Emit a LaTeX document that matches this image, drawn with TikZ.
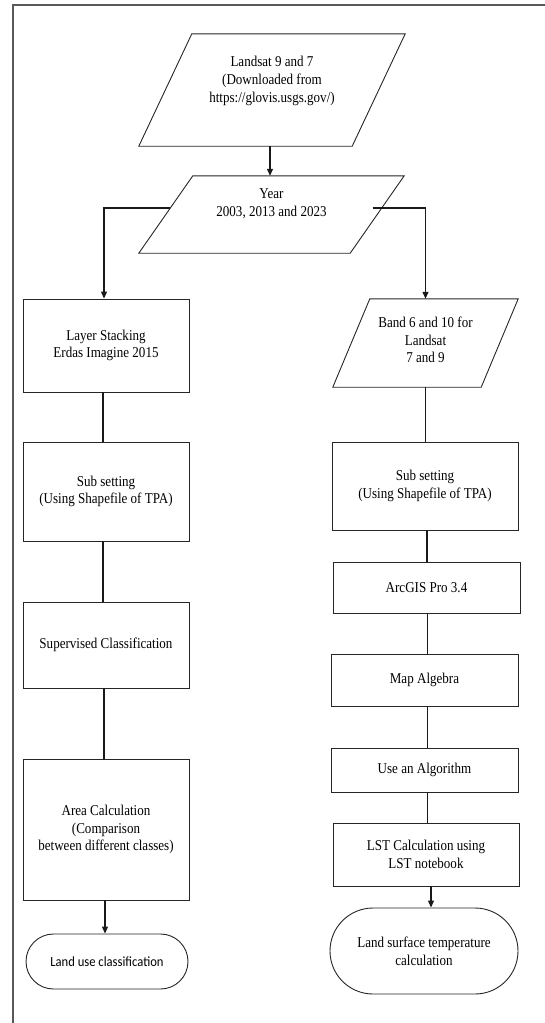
\documentclass[tikz,border=0pt]{standalone}
\usepackage{fontspec}
\setmainfont{Liberation Serif}[FakeStretch=0.87]
\newfontfamily\calib{Carlito}[FakeStretch=0.9]
\usetikzlibrary{arrows.meta,shapes.misc}
\begin{document}
\begin{tikzpicture}[x=1pt,y=-1pt,
  every node/.style={font=\fontsize{15}{17.6}\selectfont, align=center, inner sep=0pt},
  box/.style={draw=black!85, line width=0.9pt, minimum width=#1},
  box/.default=166,
  ghost/.style={draw=none},
  term/.style={draw=black!85, line width=0.9pt, rounded rectangle},
  conn/.style={draw=black!90, line width=1.2pt},
  arr/.style={conn, -{Triangle[width=6pt,length=7pt]}},
  frame/.style={draw=black!65, line width=2pt}
]
\useasboundingbox (0,0) rectangle (545,1023);
% frame
\draw[frame] (545,5) -- (13,5) -- (13,1023);

% parallelogram 1
\node[ghost, minimum width=213, minimum height=112] (P1) at (272,90) {};
\draw[box] ([xshift=-26.5pt]P1.south west) -- ([xshift=26.5pt]P1.north west) -- ([xshift=26.5pt]P1.north east) -- ([xshift=-26.5pt]P1.south east) -- cycle;
\node (P1t) at (272,81) {Landsat 9 and 7\\ (Downloaded from\\ https://glovis.usgs.gov/)};

% parallelogram 2
\node[ghost, minimum width=211, minimum height=77] (P2) at (271.5,214.5) {};
\draw[box] ([xshift=-27pt]P2.south west) -- ([xshift=27pt]P2.north west) -- ([xshift=27pt]P2.north east) -- ([xshift=-27pt]P2.south east) -- cycle;
\node (P2t) at (271.5,203.5) {Year\\ 2003, 2013 and 2023};

% left column
\node[box, minimum height=93] (L1) at (106,345.5) {Layer Stacking\\ Erdas Imagine 2015};
\node[box, minimum height=99] (L2) at (106,491.5) {Sub setting\\ (Using Shapefile of TPA)};
\node[box, minimum height=86] (L3) at (106,645) {Supervised Classification};
\node[box, minimum height=141] (L4) at (106,829.5) {Area Calculation\\ (Comparison\\ between different classes)};
\node[term, minimum width=162, minimum height=55, font=\calib\fontsize{14}{17}\selectfont] (LT) at (107,961.5) {Land use classification};

% right column
\node[ghost, minimum width=148, minimum height=88] (R1) at (425.5,343) {};
\draw[box] ([xshift=-18.5pt]R1.south west) -- ([xshift=18.5pt]R1.north west) -- ([xshift=18.5pt]R1.north east) -- ([xshift=-18.5pt]R1.south east) -- cycle;
\node (R1t) at (425.5,340) {Band 6 and 10 for\\ Landsat\\ 7 and 9};
\node[box=186, minimum height=88] (R2) at (425,486) {Sub setting\\ (Using Shapefile of TPA)};
\node[box=187, minimum height=51] (R3) at (426.5,587.5) {ArcGIS Pro 3.4};
\node[box=187, minimum height=52] (R4) at (424.5,680) {Map Algebra};
\node[box=187, minimum height=44] (R5) at (424.5,770) {Use an Algorithm};
\node[box=186, minimum height=63] (R6) at (426,854.5) {LST Calculation using\\ LST notebook};
\node[term, minimum width=188, minimum height=86] (RT) at (424,951) {Land surface temperature\\ calculation};

% connectors
\draw[arr] (P1.south -| 270,0) -- (P2.north -| 270,0);
\draw[arr] ([shift={(4.6,-6.5)}]P2.west) -| ([xshift=-2pt]L1.north);
\draw[arr] ([shift={(-4.6,-6.5)}]P2.east) -| (R1.north);
\draw[conn] ([xshift=-3pt]L1.south) -- ([xshift=-3pt]L2.north);
\draw[conn] ([xshift=-3pt]L2.south) -- ([xshift=-3pt]L3.north);
\draw[conn] ([xshift=-2pt]L3.south) -- ([xshift=-2pt]L4.north);
\draw[arr] ([xshift=-1pt]L4.south) -- ([xshift=-2pt]LT.north);
\draw[conn] (R1.south) -- (R1.south |- R2.north);
\draw[conn] ([xshift=2pt]R2.south) -- ([xshift=2pt]R2.south |- R3.north);
\draw[conn] ([xshift=1pt]R3.south) -- ([xshift=1pt]R3.south |- R4.north);
\draw[conn] ([xshift=3pt]R4.south) -- ([xshift=3pt]R4.south |- R5.north);
\draw[conn] ([xshift=3pt]R5.south) -- ([xshift=3pt]R5.south |- R6.north);
\draw[arr] ([xshift=5pt]R6.south) -- ([xshift=5pt]R6.south |- RT.north);
\end{tikzpicture}
\end{document}
